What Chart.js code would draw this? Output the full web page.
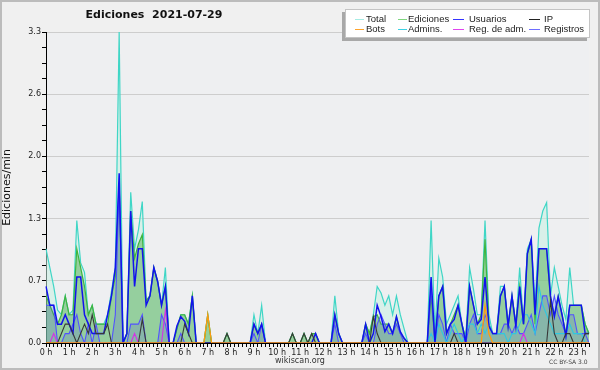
<!DOCTYPE html>
<html>
<head>
<meta charset="utf-8">
<script src="https://cdn.jsdelivr.net/npm/chart.js@4.4.1/dist/chart.umd.min.js"></script>
<style>
  html, body { margin: 0; padding: 0; background: #f0f0f0; }
  #wrap { position: relative; width: 600px; height: 370px; background: #f0f0f0; overflow: hidden; }
  #frame { position: absolute; left: 0; top: 0; width: 600px; height: 370px; box-sizing: border-box; border: 2px solid #bcbcbc; pointer-events: none; }
  #title { position: absolute; left: 0; top: 8px; width: 308px; text-align: center; font: bold 11px "DejaVu Sans", sans-serif; color: #111; white-space: pre; }
  #legend { position: absolute; left: 345px; top: 9px; width: 245px; height: 29px; box-sizing: border-box; background: #fff; border: 1px solid #c4c4c4; box-shadow: -3px 3px 0 #a8a8a8; }
  .lg { position: absolute; font: 9.5px "Liberation Sans", Arial, sans-serif; color: #222; line-height: 12px; white-space: nowrap; }
  .ln { position: absolute; height: 1px; }
  #site { position: absolute; left: 0; width: 600px; top: 356px; text-align: center; font: 8px "DejaVu Sans", sans-serif; color: #333; }
  #lic { position: absolute; left: 549px; top: 358px; font: 6px "DejaVu Sans", sans-serif; color: #444; }
</style>
</head>
<body>
<div id="wrap">
  <canvas id="chart" width="600" height="370"></canvas>
  <div id="title">Ediciones  2021-07-29</div>
  <div id="legend"></div>
  <div id="site">wikiscan.org</div>
  <div id="lic">CC BY-SA 3.0</div>
  <div id="frame"></div>
</div>
<script>
// one value every 10 minutes, 0:00 .. 23:30 (edits per minute)
const hourLabels = ['0 h','1 h','2 h','3 h','4 h','5 h','6 h','7 h','8 h','9 h','10 h','11 h',
  '12 h','13 h','14 h','15 h','16 h','17 h','18 h','19 h','20 h','21 h','22 h','23 h'];

const total = [
  1.0, 0.8, 0.6, 0.35, 0.3, 0.5,
  0.3, 0.35, 1.3, 0.85, 0.75, 0.3,
  0.4, 0.2, 0.2, 0.2, 0.3, 0.55,
  0.8, 3.3, 0.0, 0.1, 1.6, 1.0,
  1.2, 1.5, 0.45, 0.5, 0.8, 0.65,
  0.4, 0.8, 0, 0, 0.15, 0.3,
  0.3, 0.2, 0.5, 0, 0, 0,
  0.3, 0, 0, 0, 0, 0.1,
  0, 0, 0, 0, 0, 0,
  0.3, 0.1, 0.4, 0, 0, 0,
  0, 0, 0, 0, 0.1, 0,
  0, 0.1, 0, 0.1, 0.1, 0,
  0, 0, 0, 0.5, 0.1, 0,
  0, 0, 0, 0, 0, 0.2,
  0.1, 0.3, 0.6, 0.53, 0.4, 0.5,
  0.3, 0.5, 0.3, 0.15, 0, 0,
  0, 0, 0, 0, 1.3, 0.1,
  0.9, 0.7, 0.2, 0.3, 0.4, 0.5,
  0.2, 0.05, 0.8, 0.57, 0.3, 0.3,
  1.3, 0.3, 0.1, 0.1, 0.6, 0.6,
  0.2, 0.5, 0.2, 0.8, 0.2, 1.0,
  1.1, 0.4, 1.22, 1.4, 1.49, 0.5,
  0.8, 0.6, 0.4, 0.25, 0.8, 0.4,
  0.4, 0.4, 0.2, 0.1
];
const ediciones = [
  0.5, 0.4, 0.3, 0.2, 0.3, 0.5,
  0.3, 0.3, 1.0, 0.8, 0.6, 0.3,
  0.4, 0.2, 0.2, 0.2, 0.2, 0.5,
  0.7, 1.7, 0, 0.1, 1.4, 0.9,
  1.05, 1.15, 0.45, 0.5, 0.8, 0.65,
  0.4, 0.6, 0, 0, 0.15, 0.3,
  0.3, 0.2, 0.5, 0, 0, 0,
  0.3, 0, 0, 0, 0, 0.1,
  0, 0, 0, 0, 0, 0,
  0.2, 0.1, 0.2, 0, 0, 0,
  0, 0, 0, 0, 0.1, 0,
  0, 0.1, 0, 0.1, 0.1, 0,
  0, 0, 0, 0.3, 0.1, 0,
  0, 0, 0, 0, 0, 0.2,
  0.1, 0.28, 0.3, 0.2, 0.2, 0.2,
  0.1, 0.28, 0.1, 0.05, 0, 0,
  0, 0, 0, 0, 0.5, 0,
  0.5, 0.6, 0.1, 0.2, 0.3, 0.4,
  0.2, 0.05, 0.6, 0.4, 0.2, 0.3,
  1.1, 0.2, 0.1, 0.1, 0.5, 0.6,
  0.18, 0.5, 0.2, 0.6, 0.2, 0.95,
  1.1, 0.2, 1.0, 1.0, 1.0, 0.45,
  0.3, 0.5, 0.3, 0.1, 0.4, 0.4,
  0.4, 0.4, 0.2, 0.1
];
const usuarios = [
  0.6, 0.4, 0.4, 0.2, 0.2, 0.3,
  0.2, 0.1, 0.7, 0.7, 0.3, 0.2,
  0.1, 0.1, 0.1, 0.1, 0.3, 0.5,
  0.8, 1.8, 0, 0.1, 1.4, 0.6,
  1.0, 1.0, 0.4, 0.5, 0.8, 0.65,
  0.4, 0.6, 0, 0, 0.18, 0.28,
  0.23, 0.1, 0.5, 0, 0, 0,
  0, 0, 0, 0, 0, 0,
  0, 0, 0, 0, 0, 0,
  0.2, 0.1, 0.2, 0, 0, 0,
  0, 0, 0, 0, 0, 0,
  0, 0, 0, 0, 0.1, 0,
  0, 0, 0, 0.3, 0.1, 0,
  0, 0, 0, 0, 0, 0.2,
  0, 0.1, 0.4, 0.28, 0.12, 0.2,
  0.1, 0.28, 0.12, 0.05, 0, 0,
  0, 0, 0, 0, 0.7, 0,
  0.5, 0.6, 0.1, 0.2, 0.25, 0.4,
  0.2, 0, 0.6, 0.4, 0.2, 0.25,
  0.7, 0.18, 0.1, 0.1, 0.5, 0.6,
  0.18, 0.5, 0.18, 0.6, 0.2, 0.95,
  1.1, 0.3, 1.0, 1.0, 1.0, 0.5,
  0.28, 0.49, 0.3, 0.07, 0.4, 0.4,
  0.4, 0.4, 0.1, 0.1
];
const ip = [
  0, 0, 0, 0, 0.1, 0.2,
  0.2, 0.1, 0, 0.1, 0.2, 0.1,
  0.3, 0.1, 0.1, 0.1, 0.2, 0,
  0, 0, 0, 0, 0, 0,
  0, 0.25, 0, 0, 0, 0,
  0, 0, 0, 0, 0, 0,
  0.2, 0.1, 0, 0, 0, 0,
  0, 0, 0, 0, 0, 0.1,
  0, 0, 0, 0, 0, 0,
  0, 0, 0, 0, 0, 0,
  0, 0, 0, 0, 0.1, 0,
  0, 0.1, 0, 0.1, 0, 0,
  0, 0, 0, 0, 0, 0,
  0, 0, 0, 0, 0, 0,
  0, 0.28, 0.1, 0, 0, 0,
  0, 0, 0, 0, 0, 0,
  0, 0, 0, 0, 0, 0,
  0, 0, 0, 0, 0.1, 0,
  0, 0, 0, 0, 0, 0,
  0, 0, 0, 0, 0, 0,
  0, 0, 0, 0, 0, 0,
  0, 0, 0, 0, 0, 0.45,
  0.1, 0, 0, 0.1, 0.1, 0,
  0, 0, 0.1, 0.1
];
const bots = [
  0, 0, 0, 0, 0, 0,  0, 0, 0, 0, 0, 0,  0, 0, 0, 0, 0, 0,  0, 0, 0, 0, 0, 0,
  0, 0, 0, 0, 0, 0,  0, 0, 0, 0, 0, 0,  0, 0, 0, 0, 0, 0,  0.3, 0, 0, 0, 0, 0,
  0, 0, 0, 0, 0, 0,  0, 0, 0, 0, 0, 0,  0, 0, 0, 0, 0, 0,  0, 0, 0, 0, 0, 0,
  0, 0, 0, 0, 0, 0,  0, 0, 0, 0, 0, 0,  0, 0, 0, 0, 0, 0,  0, 0, 0, 0, 0, 0,
  0, 0, 0, 0, 0, 0,  0, 0, 0, 0, 0, 0,  0, 0, 0, 0, 0, 0,  0.4, 0.1, 0, 0, 0, 0,
  0, 0, 0, 0, 0, 0,  0, 0, 0, 0, 0, 0,  0, 0, 0, 0, 0, 0,  0, 0, 0, 0
];
const admins = [
  0, 0, 0, 0, 0, 0,  0, 0, 0, 0, 0, 0,  0, 0, 0, 0, 0, 0,  0, 0, 0, 0, 0, 0,
  0, 0, 0, 0, 0, 0,  0, 0, 0, 0, 0, 0,  0, 0, 0, 0, 0, 0,  0, 0, 0, 0, 0, 0,
  0, 0, 0, 0, 0, 0,  0, 0, 0, 0, 0, 0,  0, 0, 0, 0, 0, 0,  0, 0, 0, 0, 0, 0,
  0, 0, 0, 0, 0, 0,  0, 0, 0, 0, 0, 0,  0, 0, 0, 0, 0, 0,  0, 0, 0, 0, 0, 0,
  0, 0, 0, 0, 0.1, 0,
  0.2, 0.1, 0, 0.1, 0.2, 0.1,
  0, 0.1, 0.2, 0.2, 0.1, 0.2,
  0.1, 0.2, 0.1, 0.1, 0.1, 0.1,
  0, 0.1, 0.1, 0.2, 0.3, 0.3,
  0.2, 0.1, 0.6, 0.4, 0.3, 0.2,
  0.1, 0.1, 0.1, 0.1, 0.2, 0.1,
  0.1, 0.1, 0, 0
];
const regAdm = [
  0, 0, 0.1, 0, 0, 0,  0, 0, 0, 0, 0, 0,  0, 0, 0, 0, 0, 0,  0, 0, 0, 0, 0, 0.1,
  0, 0, 0, 0, 0, 0,  0, 0.35, 0, 0, 0, 0,  0, 0, 0, 0, 0, 0,  0, 0, 0, 0, 0, 0,
  0, 0, 0, 0, 0, 0,  0, 0, 0, 0, 0, 0,  0, 0, 0, 0, 0, 0,  0, 0, 0, 0, 0, 0,
  0, 0, 0, 0, 0, 0,  0, 0, 0, 0, 0, 0,  0, 0, 0, 0, 0, 0,  0, 0, 0, 0, 0, 0,
  0, 0, 0, 0, 0, 0,  0, 0, 0, 0, 0, 0,  0, 0, 0, 0, 0, 0,  0, 0, 0, 0, 0, 0,
  0, 0, 0, 0, 0.1, 0,  0, 0, 0, 0, 0, 0,  0, 0, 0, 0, 0, 0,  0, 0, 0, 0
];
const registros = [
  0.4, 0.4, 0.4, 0, 0, 0.1,
  0.1, 0.2, 0.3, 0.1, 0, 0.2,
  0, 0.2, 0, 0, 0, 0,
  0.3, 1.7, 0, 0, 0.2, 0.2,
  0.2, 0.3, 0, 0, 0, 0,
  0.3, 0.2, 0, 0, 0, 0.1,
  0, 0, 0, 0, 0, 0,
  0, 0, 0, 0, 0, 0,
  0, 0, 0, 0, 0, 0,
  0.1, 0, 0.2, 0, 0, 0,
  0, 0, 0, 0, 0, 0,
  0, 0, 0, 0, 0, 0,
  0, 0, 0, 0.2, 0, 0,
  0, 0, 0, 0, 0, 0.1,
  0, 0, 0.2, 0.3, 0.2, 0.1,
  0.1, 0.2, 0.1, 0, 0, 0,
  0, 0, 0, 0, 0.6, 0,
  0.3, 0.2, 0, 0.2, 0.1, 0.1,
  0.1, 0, 0.2, 0.3, 0.1, 0.1,
  0.3, 0.2, 0.1, 0.1, 0.1, 0.2,
  0.2, 0.1, 0.2, 0.1, 0.1, 0.2,
  0.3, 0.1, 0.3, 0.5, 0.5, 0.3,
  0.5, 0.3, 0.2, 0.1, 0.3, 0.3,
  0.1, 0.1, 0.1, 0
];

// x categories: one per 10 minutes
const slots = total.map((v, i) => Math.floor(i / 6) + ':' + String((i % 6) * 10).padStart(2, '0'));

const legendItems = [
  { text: 'Total', color: '#a6ece4', col: 0, row: 0 },
  { text: 'Ediciones', color: '#7fd67f', col: 1, row: 0 },
  { text: 'Usuarios', color: '#3434ff', col: 2, row: 0 },
  { text: 'IP', color: '#222', col: 3, row: 0 },
  { text: 'Bots', color: '#ffa42c', col: 0, row: 1 },
  { text: 'Admins.', color: '#3cd2e4', col: 1, row: 1 },
  { text: 'Reg. de adm.', color: '#e044ee', col: 2, row: 1 },
  { text: 'Registros', color: '#6e6eff', col: 3, row: 1 },
];
const legendCols = [
  { line: 9, len: 9, text: 20 },
  { line: 52, len: 9, text: 62 },
  { line: 107, len: 11, text: 123 },
  { line: 183, len: 11, text: 198 }
];
const legend = document.getElementById('legend');
legendItems.forEach(it => {
  const c = legendCols[it.col];
  const y = it.row === 0 ? 9 : 19;
  const ln = document.createElement('div');
  ln.className = 'ln';
  ln.style.left = c.line + 'px';
  ln.style.width = c.len + 'px';
  ln.style.top = y + 'px';
  ln.style.background = it.color;
  legend.appendChild(ln);
  const tx = document.createElement('div');
  tx.className = 'lg';
  tx.style.left = c.text + 'px';
  tx.style.top = (y - 6) + 'px';
  tx.textContent = it.text;
  legend.appendChild(tx);
});

function series(label, data, color, width, order, fill) {
  return {
    label, data, order,
    borderColor: color,
    borderWidth: width,
    pointRadius: 0,
    tension: 0,
    fill: fill ? 'origin' : false,
    backgroundColor: fill || 'transparent'
  };
}

const plotBg = {
  id: 'plotBg',
  beforeDraw(chart) {
    const { ctx, chartArea: a } = chart;
    ctx.save();
    ctx.fillStyle = '#eeeff1';
    ctx.fillRect(a.left, a.top, a.right - a.left, a.bottom - a.top);
    ctx.restore();
  }
};

const tickFont = { family: 'DejaVu Sans', size: 8 };

new Chart(document.getElementById('chart'), {
  type: 'line',
  data: {
    labels: slots,
    datasets: [
      series('Total', total, '#3fd6c6', 1.2, 9, 'rgba(200,240,226,0.55)'),
      series('Ediciones', ediciones, '#3fb53f', 1.2, 8, 'rgba(66,166,66,0.45)'),
      series('Registros', registros, '#5252ff', 1.1, 7, 'rgba(70,70,230,0.18)'),
      series('Admins.', admins, '#2ec8e0', 1.1, 6),
      series('Reg. de adm.', regAdm, '#d630e6', 1.1, 5),
      series('Usuarios', usuarios, '#1212ee', 1.5, 4),
      series('IP', ip, '#383838', 1.1, 3),
      series('Bots', bots, '#ff9a10', 1.3, 2),
    ]
  },
  options: {
    responsive: false,
    animation: false,
    devicePixelRatio: 1,
    layout: { padding: { left: 0, right: 11, top: 32, bottom: 0 } },
    plugins: { legend: { display: false }, tooltip: { enabled: false } },
    scales: {
      x: {
        type: 'category',
        offset: false,
        grid: { drawOnChartArea: false, drawTicks: true, tickLength: 4, tickColor: '#000' },
        border: { color: '#000', width: 1 },
        ticks: {
          autoSkip: false, maxRotation: 0, minRotation: 0, padding: 1,
          color: '#222', font: tickFont,
          callback: (v, i) => (i % 6 === 0 ? hourLabels[i / 6] : '')
        },
        afterFit: s => { s.height = 27; }
      },
      y: {
        min: 0, max: 3.3,
        grid: {
          color: c => (c.index % 4 === 0 ? '#cdcdcd' : 'rgba(0,0,0,0)'),
          tickColor: '#000', tickLength: 4
        },
        border: { color: '#000', width: 1 },
        ticks: {
          stepSize: 0.165, autoSkip: false, padding: 1,
          color: '#222', font: tickFont,
          callback: (v, i) => (i % 4 === 0 ? v.toFixed(1) : '')
        },
        title: { display: true, text: 'Ediciones/min', color: '#111', font: { family: 'DejaVu Sans', size: 11 }, padding: { top: 1, bottom: 1 } },
        afterFit: s => { s.width = 46; }
      }
    }
  },
  plugins: [plotBg]
});
</script>
</body>
</html>
